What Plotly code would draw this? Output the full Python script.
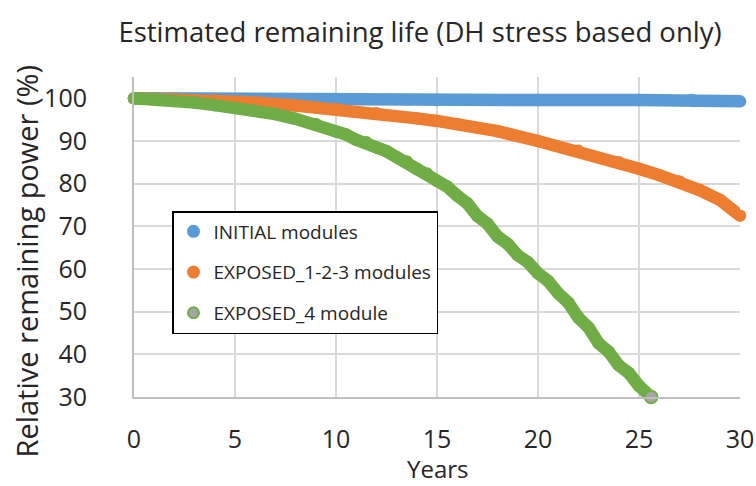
import plotly.graph_objects as go

# ---- data ----
blue_x = [0, 2, 5, 10, 15, 20, 25, 27.6, 27.7, 30]
blue_y = [100, 99.9, 99.8, 99.7, 99.6, 99.6, 99.6, 99.6, 99.4, 99.3]

orange_x = [0, 2, 4, 6, 8, 10, 12, 14, 15, 16, 18, 20, 22, 24, 25, 26, 27, 28, 29, 30]
orange_y = [100, 99.8, 99.5, 99.0, 98.3, 97.5, 96.5, 95.3, 94.7, 94.0, 92.3, 90.0,
            87.7, 85.0, 83.5, 82.0, 80.5, 78.5, 76.2, 72.5]

green_x = [0, 1, 2, 3, 4, 5, 6, 7, 8, 9, 10, 10.5, 11, 11.5, 12, 12.5, 13, 13.5, 14, 14.5,
           15, 15.5, 16, 16.5, 17, 17.5, 18, 18.5, 19, 19.5, 20, 20.5, 21, 21.5, 22, 22.5,
           23, 23.5, 24, 24.5, 25, 25.6]
green_y = [100, 99.8, 99.4, 99.0, 98.4, 97.8, 97.1, 96.3, 95.2, 94.0, 92.2, 91.5, 90.3, 89.7,
           88.5, 87.6, 86.2, 85.2, 83.5, 82.4, 80.6, 79.3, 77.2, 75.4, 72.4, 70.6, 67.6, 65.9,
           63.2, 61.6, 59.0, 57.2, 54.3, 52.1, 48.6, 46.3, 42.6, 40.6, 37.4, 35.6, 32.6, 30.0]

names = ["INITIAL modules", "EXPOSED_1-2-3 modules", "EXPOSED_4 module"]
x_ticks = [0, 5, 10, 15, 20, 25, 30]
y_ticks = [30, 40, 50, 60, 70, 80, 90, 100]

BLUE, ORANGE, GREEN, GRAY = "#5b9bd5", "#ed7d31", "#70ad47", "#a5a5a5"
FONT = "Open Sans"
TXT = "#262626"
W = 12.5

fig = go.Figure()
for xs, ys, c in [(blue_x, blue_y, BLUE), (orange_x, orange_y, ORANGE), (green_x, green_y, GREEN)]:
    fig.add_trace(go.Scatter(x=xs, y=ys, mode="lines+markers", showlegend=False,
                             line=dict(color=c, width=W),
                             marker=dict(color=c, size=W), cliponaxis=False,
                             hoverinfo="skip"))
# last green point: grey fill with green border
fig.add_trace(go.Scatter(x=green_x[-1:], y=green_y[-1:], mode="markers", showlegend=False,
                         marker=dict(color=GRAY, size=W, line=dict(color=GREEN, width=2)),
                         cliponaxis=False, hoverinfo="skip"))
# legend entries
for i, (n, fc, lc) in enumerate([(names[0], BLUE, BLUE), (names[1], ORANGE, ORANGE),
                                 (names[2], GRAY, GREEN)]):
    fig.add_trace(go.Scatter(x=[None], y=[None], mode="markers", name=n, legendgroup=str(i),
                             marker=dict(color=fc, size=11, line=dict(color=lc, width=2))))

PL, PR, PT, PB = 134, 16, 77, 89
pw = 756 - PL - PR
ph = 486 - PT - PB

fig.update_layout(
    width=756, height=486,
    margin=dict(l=PL, r=PR, t=PT, b=PB, autoexpand=False),
    paper_bgcolor="white", plot_bgcolor="white",
    font=dict(family=FONT, color=TXT),
    hovermode=False,
    title=dict(text="Estimated remaining life (DH stress based only)", x=420 / 756, xanchor="center",
               y=1 - 32 / 486, yanchor="middle", font=dict(size=27.5, family=FONT, color=TXT)),
    legend=dict(x=(172 - PL) / pw, y=(486 - PB - 211) / ph, xanchor="left", yanchor="top",
                bordercolor="black", borderwidth=1.5,
                bgcolor="white", font=dict(size=19, family=FONT, color=TXT),
                traceorder="grouped", tracegroupgap=13, itemwidth=30),
    xaxis=dict(range=[0, 30], tickvals=x_ticks, showgrid=True, gridcolor="#d9d9d9", gridwidth=1.5,
               showline=True, linecolor="#bfbfbf", linewidth=2, zeroline=False, automargin=False,
               ticks="", ticklabelstandoff=19, tickfont=dict(size=25, family=FONT)),
    yaxis=dict(range=[30, 105], tickvals=y_ticks, showgrid=True, gridcolor="#d9d9d9", gridwidth=1.5,
               showline=True, linecolor="#bfbfbf", linewidth=2, zeroline=False, automargin=False,
               ticks="", ticklabelstandoff=40, tickfont=dict(size=25, family=FONT)),
    annotations=[
        dict(text="Relative remaining power (%)", textangle=-90, xref="paper", yref="paper",
             x=(25.5 - PL) / pw, y=(486 - PB - 261) / ph, xanchor="center", yanchor="middle",
             showarrow=False, font=dict(size=29, family=FONT, color=TXT)),
        dict(text="Years", xref="paper", yref="paper",
             x=0.5, y=(486 - PB - 468) / ph, xanchor="center", yanchor="middle",
             showarrow=False, font=dict(size=24, family=FONT, color=TXT)),
    ],
)

fig.write_html("out.html", config={"displayModeBar": False},
               post_script="document.body.style.margin='0';document.body.style.overflow='hidden';")
